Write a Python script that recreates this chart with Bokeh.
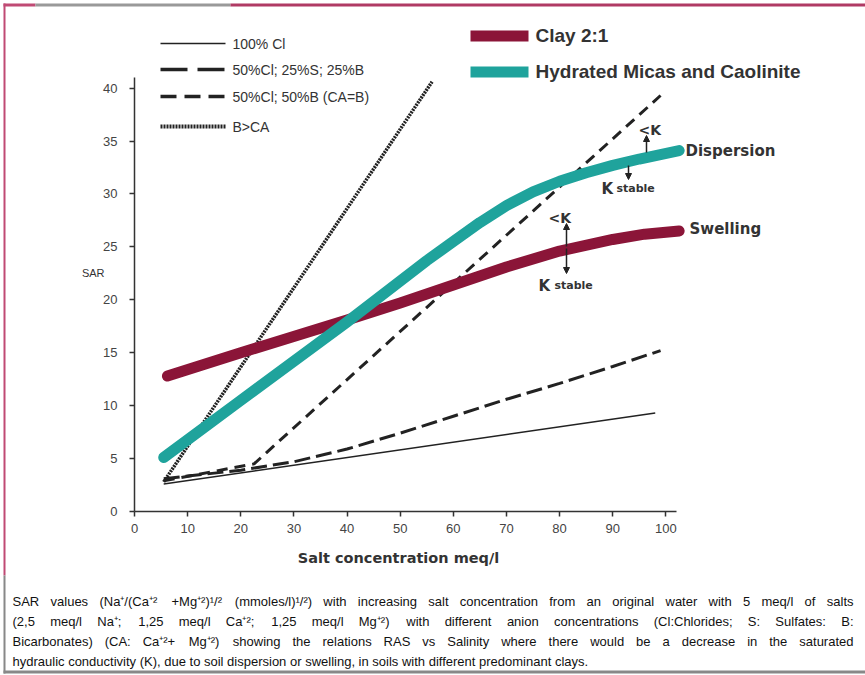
from bokeh.plotting import figure
from bokeh.models import Range1d, FixedTicker, Label, Arrow, NormalHead, BoxAnnotation
from bokeh.embed import file_html
from bokeh.resources import INLINE

# ---------------- data ----------------
clay_x = [6.2, 20, 40, 50, 60, 70, 80, 90, 96, 102.5]
clay_y = [12.8, 15.0, 18.1, 19.7, 21.4, 23.1, 24.6, 25.7, 26.2, 26.5]
mica_x = [5.5, 20, 40, 55, 60, 65, 70, 75, 80, 85, 90, 95, 102.5]
mica_y = [5.1, 10.5, 17.9, 23.7, 25.5, 27.3, 28.9, 30.2, 31.2, 32.0, 32.7, 33.3, 34.1]
cl100_x = [5.5, 98]
cl100_y = [2.6, 9.3]
clsb_x = [5.5, 20, 30, 40, 50, 60, 70, 80, 90, 99]
clsb_y = [3.1, 3.9, 4.7, 5.9, 7.4, 9.0, 10.6, 12.1, 13.7, 15.2]
clb_x = [5.5, 22.5, 99]
clb_y = [2.9, 4.5, 39.3]
bca_x = [5.5, 56]
bca_y = [2.8, 40.6]
x_ticks = [0, 10, 20, 30, 40, 50, 60, 70, 80, 90, 100]
y_ticks = [0, 5, 10, 15, 20, 25, 30, 35, 40]

line_names = ["100% Cl", "50%Cl; 25%S; 25%B", "50%Cl; 50%B (CA=B)", "B>CA"]
clay_names = ["Clay 2:1", "Hydrated Micas and Caolinite"]
x_title = "Salt concentration meq/l"
y_title = "SAR"
caption = [
    "SAR values (Na\u207a/(Ca\u207a\u00b2 +Mg\u207a\u00b2)\u00b9/\u00b2 (mmoles/l)\u00b9/\u00b2) with increasing salt concentration from an original water with 5 meq/l of salts",
    "(2,5 meq/l Na\u207a; 1,25 meq/l Ca\u207a\u00b2; 1,25 meq/l Mg\u207a\u00b2) with different anion concentrations (Cl:Chlorides; S: Sulfates: B:",
    "Bicarbonates) (CA: Ca\u207a\u00b2+ Mg\u207a\u00b2) showing the relations RAS vs Salinity where there would be a decrease in the saturated",
    "hydraulic conductivity (K), due to soil dispersion or swelling, in soils with different predominant clays.",
]

CLAY = "#8b1538"
MICA = "#1fa39c"
INK = "#222222"

W, H = 865, 675
X0, Y0 = 134, 511          # page px of the data origin
PX_X = 102 / 542.0         # data units per px
PX_Y = 41 / 434.0


def sx(px):
    return px


def sy(py):
    return H - py


p = figure(width=W, height=H, output_backend="svg", toolbar_location=None,
           x_range=Range1d(-X0 * PX_X, (W - X0) * PX_X),
           y_range=Range1d(-(H - Y0) * PX_Y, Y0 * PX_Y),
           min_border=0, min_border_left=0, min_border_right=0, min_border_top=0, min_border_bottom=0)
p.outline_line_color = None
p.xgrid.grid_line_color = None
p.ygrid.grid_line_color = None
p.background_fill_color = "white"
p.border_fill_color = "white"

for ax in (p.xaxis, p.yaxis):
    ax.fixed_location = 0
    ax.axis_line_color = "#333333"
    ax.axis_line_width = 1.5
    ax.major_tick_line_color = "#333333"
    ax.major_tick_line_width = 1.5
    ax.major_tick_out = 5
    ax.major_tick_in = 0
    ax.minor_tick_line_color = None
    ax.major_label_text_font = "Liberation Sans"
    ax.major_label_text_font_size = "13px"
    ax.major_label_text_color = "#444444"
p.xaxis.bounds = (0, 102)
p.yaxis.bounds = (0, 41)
p.xaxis.ticker = FixedTicker(ticks=x_ticks)
p.yaxis.ticker = FixedTicker(ticks=y_ticks)
p.yaxis.major_label_standoff = 12
p.xaxis.major_label_standoff = 7

# black lines
p.line(cl100_x, cl100_y, line_color=INK, line_width=1.5)
p.line(clsb_x, clsb_y, line_color=INK, line_width=3, line_dash="16 6")
p.line(clb_x, clb_y, line_color=INK, line_width=3, line_dash="11 7")
p.line(bca_x, bca_y, line_color=INK, line_width=3.5, line_dash="2 1")
# clay lines
p.line(clay_x, clay_y, line_color=CLAY, line_width=11, line_cap="round", line_join="round")
p.line(mica_x, mica_y, line_color=MICA, line_width=11, line_cap="round", line_join="round")


def label(px, py, text, size="12px", font="Liberation Sans", bold=False, color="#333333", align="left"):
    p.add_layout(Label(x=sx(px), y=sy(py), x_units="screen", y_units="screen", text=text,
                       text_font=font, text_font_size=size,
                       text_font_style="bold" if bold else "normal",
                       text_color=color, text_align=align, text_baseline="middle"))


def seg(x0, y0, x1, y1, width, dash="solid", color=INK):
    p.add_layout(Arrow(start=None, end=None, x_start=sx(x0), y_start=sy(y0), x_end=sx(x1), y_end=sy(y1),
                       start_units="screen", end_units="screen",
                       line_color=color, line_width=width, line_dash=dash))


def box(l, r, t, b, color):
    p.add_layout(BoxAnnotation(left=sx(l), right=sx(r), top=sy(t), bottom=sy(b),
                               left_units="screen", right_units="screen",
                               top_units="screen", bottom_units="screen",
                               fill_color=color, fill_alpha=1, line_color=None))


# page frame
box(3, 35, 3, 6, "#c04a74")
box(35, 230, 3, 6, "#999999")
box(230, 865, 3, 6, "#b03a64")
box(3, 5, 3, 575, "#c04a74")
box(3, 5, 575, 673, "#888888")
box(3, 865, 670, 673, "#888888")

# legend of anion lines
leg_y = [43, 69, 96, 126]
seg(160, leg_y[0], 225, leg_y[0], 1.5)
seg(160, leg_y[1], 225, leg_y[1], 3.5, "27 10")
seg(160, leg_y[2], 225, leg_y[2], 3.5, "16 8")
seg(160, leg_y[3], 225, leg_y[3], 4, "2 1")
for yy, name in zip(leg_y, line_names):
    label(232, yy, name, size="14px", color="#333333")

# legend of clays
box(470, 528, 30, 41, CLAY)
box(470, 528, 66, 77, MICA)
label(535, 35, clay_names[0], size="19px", bold=True)
label(535, 71, clay_names[1], size="19px", bold=True)

# annotations
label(685, 150, "Dispersion", size="15px", font="DejaVu Sans", bold=True)
label(689, 228, "Swelling", size="15px", font="DejaVu Sans", bold=True)
label(638, 129, "<K", size="14px", font="DejaVu Sans", bold=True)
label(548, 217, "<K", size="14px", font="DejaVu Sans", bold=True)
label(601, 188, "K", size="15px", font="DejaVu Sans", bold=True)
label(616, 188, "stable", size="11px", font="DejaVu Sans", bold=True)
label(538, 285, "K", size="15px", font="DejaVu Sans", bold=True)
label(554, 285, "stable", size="11px", font="DejaVu Sans", bold=True)

head = dict(size=6, fill_color=INK, line_color=INK)
for x0, y0, y1 in [(646, 152, 135), (628, 165, 179), (566, 246, 223), (566, 248, 273)]:
    p.add_layout(Arrow(end=NormalHead(**head), x_start=(x0 - X0) * PX_X, y_start=(Y0 - y0) * PX_Y,
                       x_end=(x0 - X0) * PX_X, y_end=(Y0 - y1) * PX_Y,
                       line_color=INK, line_width=1.5))

# axis titles
label(104, 272, y_title, size="11px", color="#333333", align="right")
label(398, 557, x_title, size="14.5px", font="DejaVu Sans", bold=True, color="#333333", align="center")

# caption, justified word by word (Arial-compatible advance widths)
AW = {" ": 278, "(": 333, ")": 333, "+": 584, ",": 278, "-": 333, ".": 278, "/": 278, ":": 278,
      ";": 278, "=": 584, ">": 584, "<": 584, "%": 889,
      "A": 667, "B": 667, "C": 722, "D": 722, "K": 667, "M": 833, "N": 722, "R": 722, "S": 667,
      "a": 556, "b": 556, "c": 500, "d": 556, "e": 556, "f": 278, "g": 556, "h": 556, "i": 222,
      "j": 222, "k": 500, "l": 222, "m": 833, "n": 556, "o": 556, "p": 556, "q": 556, "r": 333,
      "s": 500, "t": 278, "u": 556, "v": 500, "w": 722, "x": 500, "y": 500, "z": 500,
      "\u00b9": 333, "\u00b2": 333, "\u207a": 420}
CAP_FONT = "Liberation Sans"
CAP_SIZE = 13
CAP_LEFT, CAP_RIGHT = 12, 853


def tw(s):
    return sum(AW.get(c, 556) for c in s) / 1000.0 * CAP_SIZE


cap_y = [601, 621, 641, 661]
for i, line in enumerate(caption):
    if i < 3:
        words = line.split(" ")
        widths = [tw(w) for w in words]
        gap = (CAP_RIGHT - CAP_LEFT - sum(widths)) / (len(words) - 1)
        xx = CAP_LEFT
        for w, wd in zip(words, widths):
            label(xx, cap_y[i], w, size="%.1fpx" % CAP_SIZE, font=CAP_FONT, color="#111111")
            xx += wd + gap
    else:
        label(CAP_LEFT, cap_y[i], line, size="%.1fpx" % CAP_SIZE, font=CAP_FONT, color="#111111")

open("out.html", "w").write(file_html(p, INLINE))
